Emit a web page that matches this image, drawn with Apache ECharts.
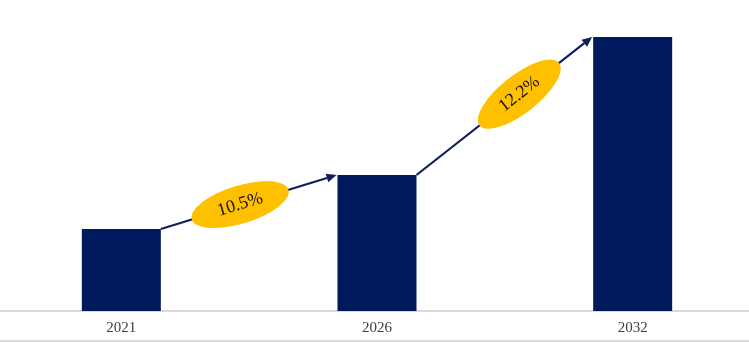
<!DOCTYPE html>
<html><head><meta charset="utf-8">
<script src="https://cdn.jsdelivr.net/npm/echarts@6/dist/echarts.min.js"></script>
<style>html,body{margin:0;padding:0;background:#fff}#c{width:749px;height:342px}</style>
</head><body><div id="c"></div>
<script>
const categories = ['2021', '2026', '2032'];
const values = [8.2, 13.6, 27.4];
const cagrLabels = ['10.5%', '12.2%'];

const chart = echarts.init(document.getElementById('c'), null, {renderer: 'canvas'});
const BAR_W = 79;
const labelShift = [-8.5, 15];
chart.setOption({
  animation: false,
  grid: {left: -6.5, width: 767, top: 11, bottom: 31, containLabel: false, outerBoundsMode: 'none'},
  xAxis: {
    type: 'category', data: categories,
    axisLine: {lineStyle: {color: '#d9d9d9', width: 2}},
    axisTick: {show: false},
    axisLabel: {color: '#404040', fontFamily: 'Liberation Serif', fontSize: 15, margin: 10}
  },
  yAxis: {type: 'value', min: 0, max: 30, show: false, splitLine: {show: false}},
  series: [{
    type: 'bar', data: values, barWidth: BAR_W,
    itemStyle: {color: '#001A5E'}
  }]
});

const els = [];
els.push({type: 'line', shape: {x1: 0, y1: 341, x2: 749, y2: 341}, style: {stroke: '#d9d9d9', lineWidth: 2}});
for (let i = 0; i < categories.length - 1; i++) {
  const a = chart.convertToPixel({gridIndex: 0}, [i, values[i]]);
  const b = chart.convertToPixel({gridIndex: 0}, [i + 1, values[i + 1]]);
  const x1 = a[0] + BAR_W / 2, y1 = a[1];
  const x2 = b[0] - BAR_W / 2 - 1, y2 = b[1];
  const ang = Math.atan2(y2 - y1, x2 - x1);
  const hl = 10, hw = 4.5;
  const bx = x2 - hl * Math.cos(ang), by = y2 - hl * Math.sin(ang);
  els.push({type: 'line', shape: {x1: x1, y1: y1, x2: bx, y2: by}, style: {stroke: '#0F1F5C', lineWidth: 2.2}});
  els.push({type: 'polygon', shape: {points: [
    [x2, y2],
    [bx - hw * Math.sin(ang), by + hw * Math.cos(ang)],
    [bx + hw * Math.sin(ang), by - hw * Math.cos(ang)]
  ]}, style: {fill: '#0F1F5C'}});
  const d = labelShift[i] / Math.cos(ang);
  const cx = (x1 + x2) / 2 + d * Math.cos(ang), cy = (y1 + y2) / 2 + d * Math.sin(ang);
  els.push({
    type: 'group', x: cx, y: cy, rotation: -ang,
    children: [
      {type: 'circle', shape: {cx: 0, cy: 0, r: 19}, scaleX: 50.5 / 19, style: {fill: '#FFC000'}},
      {type: 'text', x: 0, y: 0, style: {text: cagrLabels[i], fill: '#111', font: '18px "Liberation Serif"', align: 'center', verticalAlign: 'middle'}}
    ]
  });
}
chart.setOption({graphic: {elements: els}});
</script></body></html>
